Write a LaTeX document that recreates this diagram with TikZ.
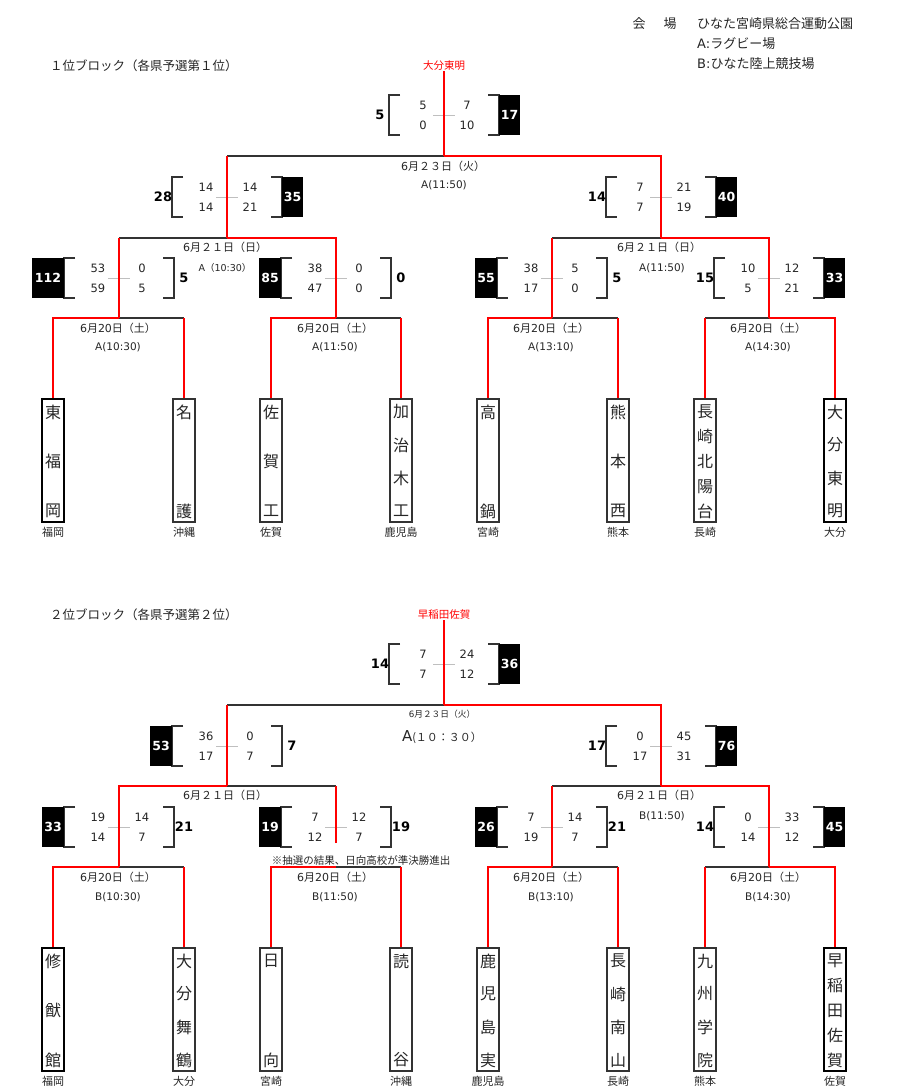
\documentclass[tikz,border=0pt]{standalone}
\usepackage{fontspec}
\setmainfont{Noto Sans CJK JP}
\newfontfamily\dv{DejaVu Sans}
\newcommand\myfs[1]{\fontsize{#1}{#1}\selectfont}
% team box: #1 name, #2 x, #3 top y, #4 style, #5 count, #6 chars, #7 prefecture
\newcommand\team[7]{%
  \node[#4] (#1) at (#2,#3+61.5) {};
  \foreach \ch [count=\i] in {#6} {\node[tch] (#1c\i) at (#2,{#3+13+(\i-1)*99/(#5-1)}) {\ch};}
  \node[pref] (#1p) at (#2,#3+133) {#7};}
% match lines: #1 mid name, #2 A, #3 B, #4 x mid, #5 y, #6 winner L/R
\newcommand\game[6]{%
  \coordinate (#1) at (#4,#5);
  \if L#6
    \draw[bline] (#1) -- (#3 |- #1);
    \draw[rline] (#3) -- (#3 |- #1);
    \draw[rline] (#2) -- (#2 |- #1) -- (#1);
  \else
    \draw[bline] (#1) -- (#2 |- #1);
    \draw[rline] (#2) -- (#2 |- #1);
    \draw[rline] (#3) -- (#3 |- #1) -- (#1);
  \fi}
% scores: #1 prefix, #2 xc, #3 yc, #4 l1, #5 l2, #6 r1, #7 r2
\newcommand\scores[7]{%
  \draw[gline] (#2-11,#3) -- (#2+11,#3);
  \draw[brk] (#2-44,#3-20) -- (#2-55,#3-20) -- (#2-55,#3+20) -- (#2-44,#3+20);
  \draw[brk] (#2+44,#3-20) -- (#2+55,#3-20) -- (#2+55,#3+20) -- (#2+44,#3+20);
  \node[sc] (#1a) at (#2-21,#3-10) {#4};
  \node[sc] (#1b) at (#2-21,#3+10) {#5};
  \node[sc] (#1c) at (#2+23,#3-10) {#6};
  \node[sc] (#1d) at (#2+23,#3+10) {#7};}
\newcommand\wbL[5]{%
  \fill[black] (#2-55-#4,#3-20) rectangle (#2-55,#3+20);
  \node[wbt] (#1) at (#2-55-#4/2,#3) {#5};}
\newcommand\wbR[4]{%
  \fill[black] (#2+55,#3-20) rectangle (#2+76,#3+20);
  \node[wbt] (#1) at (#2+65.5,#3) {#4};}
\newcommand\lnL[4]{\node[lnum] (#1) at (#2-64,#3) {#4};}
\newcommand\lnR[4]{\node[lnum] (#1) at (#2+65,#3) {#4};}
\newcommand\dtA{{\dv 6}月{\dv 20}日（土）}
\begin{document}
\begin{tikzpicture}[x=1pt,y=-1pt,
  rline/.style={draw=red,line width=2.2pt},
  bline/.style={draw=black!80,line width=1.2pt},
  brk/.style={draw=black!80,line width=1.3pt},
  gline/.style={draw=black!25,line width=0.9pt},
  tbox/.style={draw=black!80,line width=1.3pt,minimum width=22pt,minimum height=123pt,inner sep=0pt},
  tboxs/.style={tbox,draw=black,line width=2.6pt},
  tch/.style={font={\myfs{16pt}},inner sep=0pt,text=black!85},
  pref/.style={font={\myfs{11pt}},inner sep=0pt,text=black!85},
  sc/.style={font={\dv\myfs{11.5pt}},inner sep=0pt,text=black!85},
  lnum/.style={font={\dv\bfseries\myfs{13pt}},inner sep=0pt},
  wbt/.style={font={\dv\bfseries\myfs{12.5pt}},text=white,inner sep=0pt},
  dt/.style={font={\myfs{11pt}},inner sep=0pt,text=black!85},
  dts/.style={font={\myfs{8.7pt}},inner sep=0pt,text=black!85},
  vn/.style={font={\dv\myfs{10.5pt}},inner sep=0pt,text=black!85},
  wlab/.style={font={\myfs{10.5pt}},text=red,inner sep=0pt},
  ttl/.style={font={\myfs{12.5pt}},anchor=west,inner sep=0pt,text=black!85},
  hd/.style={font={\myfs{13pt}},anchor=west,inner sep=0pt,text=black!85},
  note/.style={font={\myfs{10.5pt}},inner sep=0pt,text=black!85}]
\useasboundingbox (0,0) rectangle (900,1091);
\fill[white] (0,0) rectangle (900,1091);

% header
\node[hd,anchor=center] (hkai) at (639,24) {会};
\node[hd,anchor=center] (hjo) at (670,24) {場};
\node[hd] (hv) at (697,24) {ひなた宮崎県総合運動公園};
\node[hd] (ha) at (697,44) {{\dv A:}ラグビー場};
\node[hd] (hb) at (697,64) {{\dv B:}ひなた陸上競技場};

% ================= block 1 =================
\node[ttl] (b1title) at (50,66) {１位ブロック（各県予選第１位）};
\node[wlab] (b1win) at (444,66) {大分東明};

\team{b1t1}{53}{399}{tboxs}{3}{東,福,岡}{福岡}
\team{b1t2}{184}{399}{tbox}{2}{名,護}{沖縄}
\team{b1t3}{271}{399}{tbox}{3}{佐,賀,工}{佐賀}
\team{b1t4}{401}{399}{tbox}{4}{加,治,木,工}{鹿児島}
\team{b1t5}{488}{399}{tbox}{2}{高,鍋}{宮崎}
\team{b1t6}{618}{399}{tbox}{3}{熊,本,西}{熊本}
\team{b1t7}{705}{399}{tbox}{5}{長,崎,北,陽,台}{長崎}
\team{b1t8}{835}{399}{tboxs}{4}{大,分,東,明}{大分}

\scores{b1s1}{119}{278}{53}{59}{0}{5}
\scores{b1s2}{336}{278}{38}{47}{0}{0}
\scores{b1s3}{552}{278}{38}{17}{5}{0}
\scores{b1s4}{769}{278}{10}{5}{12}{21}
\scores{b1s5}{227}{197}{14}{14}{14}{21}
\scores{b1s6}{661}{197}{7}{7}{21}{19}
\scores{b1s7}{444}{115}{5}{0}{7}{10}

\game{b1m1}{b1t1.north}{b1t2.north}{119}{318}{L}
\game{b1m2}{b1t3.north}{b1t4.north}{336}{318}{L}
\game{b1m3}{b1t5.north}{b1t6.north}{552}{318}{L}
\game{b1m4}{b1t7.north}{b1t8.north}{769}{318}{R}
\game{b1m5}{b1m1}{b1m2}{227}{238}{R}
\game{b1m6}{b1m3}{b1m4}{661}{238}{R}
\game{b1m7}{b1m5}{b1m6}{444}{156}{R}
\draw[rline] (b1m7) -- (b1win.south);

\wbL{b1w1}{119}{278}{32}{112}
\lnR{b1l1}{119}{278}{5}
\wbL{b1w2}{336}{278}{22}{85}
\lnR{b1l2}{336}{278}{0}
\wbL{b1w3}{552}{278}{22}{55}
\lnR{b1l3}{552}{278}{5}
\lnL{b1l4}{769}{278}{15}
\wbR{b1w4}{769}{278}{33}
\lnL{b1l5}{227}{197}{28}
\wbR{b1w5}{227}{197}{35}
\lnL{b1l6}{661}{197}{14}
\wbR{b1w6}{661}{197}{40}
\lnL{b1l7}{444}{115}{5}
\wbR{b1w7}{444}{115}{17}

\node[dt] (b1d7) at (443,166) {{\dv 6}月２３日（火）};
\node[vn] (b1v7) at (444,185) {A(11:50)};
\node[dt] (b1d5) at (225,247) {{\dv 6}月２１日（日）};
\node[font={\myfs{9.5pt}},inner sep=0pt,text=black!85] (b1v5) at (225,268) {{\dv A}（{\dv 10:30}）};
\node[dt] (b1d6) at (659,247) {{\dv 6}月２１日（日）};
\node[vn] (b1v6) at (662,268) {A(11:50)};
\node[dt] (b1d1) at (118,328) {\dtA};
\node[vn] (b1v1) at (118,347) {A(10:30)};
\node[dt] (b1d2) at (335,328) {\dtA};
\node[vn] (b1v2) at (335,347) {A(11:50)};
\node[dt] (b1d3) at (551,328) {\dtA};
\node[vn] (b1v3) at (551,347) {A(13:10)};
\node[dt] (b1d4) at (768,328) {\dtA};
\node[vn] (b1v4) at (768,347) {A(14:30)};

% ================= block 2 =================
\node[ttl] (b2title) at (50,615) {２位ブロック（各県予選第２位）};
\node[wlab] (b2win) at (444,615) {早稲田佐賀};

\team{b2t1}{53}{948}{tboxs}{3}{修,猷,館}{福岡}
\team{b2t2}{184}{948}{tbox}{4}{大,分,舞,鶴}{大分}
\team{b2t3}{271}{948}{tbox}{2}{日,向}{宮崎}
\team{b2t4}{401}{948}{tbox}{2}{読,谷}{沖縄}
\team{b2t5}{488}{948}{tbox}{4}{鹿,児,島,実}{鹿児島}
\team{b2t6}{618}{948}{tbox}{4}{長,崎,南,山}{長崎}
\team{b2t7}{705}{948}{tbox}{4}{九,州,学,院}{熊本}
\team{b2t8}{835}{948}{tboxs}{5}{早,稲,田,佐,賀}{佐賀}

\scores{b2s1}{119}{827}{19}{14}{14}{7}
\scores{b2s2}{336}{827}{7}{12}{12}{7}
\scores{b2s3}{552}{827}{7}{19}{14}{7}
\scores{b2s4}{769}{827}{0}{14}{33}{12}
\scores{b2s5}{227}{746}{36}{17}{0}{7}
\scores{b2s6}{661}{746}{0}{17}{45}{31}
\scores{b2s7}{444}{664}{7}{7}{24}{12}

\coordinate (b2m2s) at (336,843);
\game{b2m1}{b2t1.north}{b2t2.north}{119}{867}{L}
\game{b2m2}{b2t3.north}{b2t4.north}{336}{867}{L}
\game{b2m3}{b2t5.north}{b2t6.north}{552}{867}{L}
\game{b2m4}{b2t7.north}{b2t8.north}{769}{867}{R}
\game{b2m5}{b2m1}{b2m2s}{227}{786}{L}
\game{b2m6}{b2m3}{b2m4}{661}{786}{R}
\game{b2m7}{b2m5}{b2m6}{444}{705}{R}
\draw[rline] (b2m7) -- (b2win.south);

\wbL{b2w1}{119}{827}{22}{33}
\lnR{b2l1}{119}{827}{21}
\wbL{b2w2}{336}{827}{22}{19}
\lnR{b2l2}{336}{827}{19}
\wbL{b2w3}{552}{827}{22}{26}
\lnR{b2l3}{552}{827}{21}
\lnL{b2l4}{769}{827}{14}
\wbR{b2w4}{769}{827}{45}
\wbL{b2w5}{227}{746}{22}{53}
\lnR{b2l5}{227}{746}{7}
\lnL{b2l6}{661}{746}{17}
\wbR{b2w6}{661}{746}{76}
\lnL{b2l7}{444}{664}{14}
\wbR{b2w7}{444}{664}{36}

\node[dts] (b2d7) at (442,714) {{\dv 6}月２３日（火）};
\node[inner sep=0pt,text=black!85] (b2v7) at (442,737) {{\dv\myfs{15pt}A}{\myfs{11pt}(１０：３０）}};
\node[dt] (b2d5) at (225,795) {{\dv 6}月２１日（日）};
\node[dt] (b2d6) at (659,795) {{\dv 6}月２１日（日）};
\node[vn] (b2v6) at (662,816) {B(11:50)};
\node[note] (b2note) at (361,860) {※抽選の結果、日向高校が準決勝進出};
\node[dt] (b2d1) at (118,877) {\dtA};
\node[vn] (b2v1) at (118,897) {B(10:30)};
\node[dt] (b2d2) at (335,877) {\dtA};
\node[vn] (b2v2) at (335,897) {B(11:50)};
\node[dt] (b2d3) at (551,877) {\dtA};
\node[vn] (b2v3) at (551,897) {B(13:10)};
\node[dt] (b2d4) at (768,877) {\dtA};
\node[vn] (b2v4) at (768,897) {B(14:30)};
\end{tikzpicture}
\end{document}
